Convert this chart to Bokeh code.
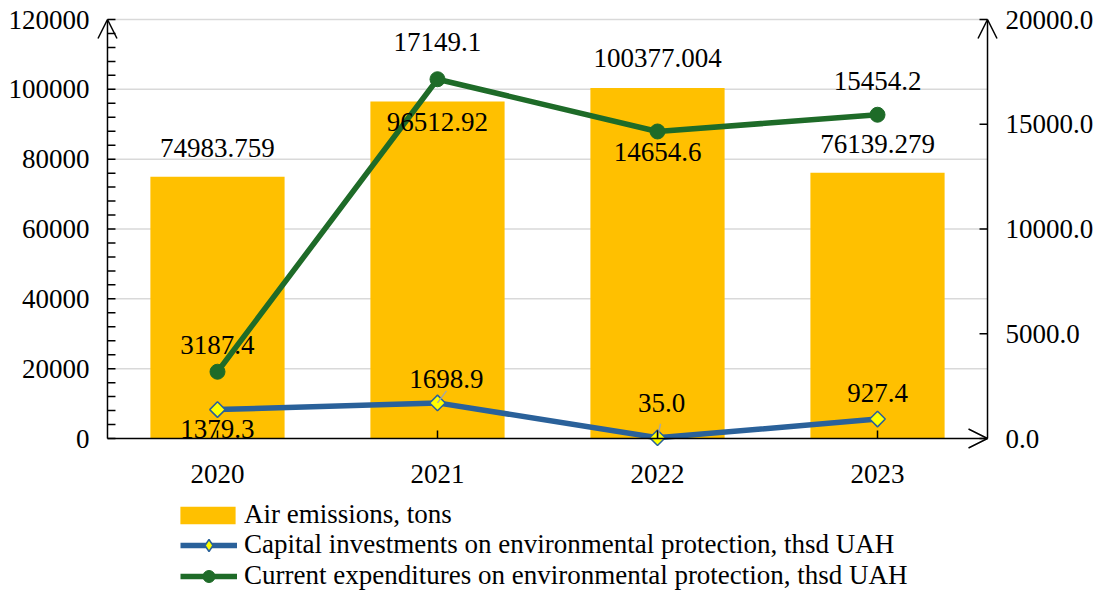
from bokeh.plotting import figure
from bokeh.models import (Range1d, LinearAxis, SingleIntervalTicker,
                          NumeralTickFormatter, Arrow, OpenHead, Legend, LegendItem)
from bokeh.core.properties import value
from bokeh.embed import file_html
from bokeh.resources import INLINE

# ---- data ----
years = ["2020", "2021", "2022", "2023"]
air_emissions = [74983.759, 96512.92, 100377.004, 76139.279]
capital_invest = [1379.3, 1698.9, 35.0, 927.4]
current_exp = [3187.4, 17149.1, 14654.6, 15454.2]
air_labels = ["74983.759", "96512.92", "100377.004", "76139.279"]
capital_labels = ["1379.3", "1698.9", "35.0", "927.4"]
current_labels = ["3187.4", "17149.1", "14654.6", "15454.2"]
series_names = ["Air emissions, tons",
                "Capital investments on environmental protection, thsd UAH",
                "Current expenditures on environmental protection, thsd UAH"]
left_max, left_step, left_minor = 120000, 20000, 4000
right_max, right_step = 20000, 5000

# ---- styles / layout ----
FONT = "Liberation Serif"
FS = "27px"
BAR = "#FFC000"
BLUE = "#2A619A"
GREEN = "#1E6B28"
GRID = "#D9D9D9"
DIAMOND_FILL = "#FFFF00"

AX_L, AX_T = 107, 19            # pixel position of the left axis line / top of axes
AX_W, AX_H = 881, 419           # pixel distance between the axis lines
PAD_L, PAD_R, PAD_T = 11, 11, 3
PAD_B = 592 - AX_T - AX_H        # frame reaches the bottom (room for legend)
TICK = 8
ncat = len(years)
px_x = AX_W / ncat
px_l = AX_H / left_max
px_r = AX_H / right_max

xc = [i + 0.5 for i in range(ncat)]   # category centres

air_dy = [-29, 20, -30, -29]
cap_dx = [0, 9, 4, 0]
cap_dy = [19, -24, -35, -26]
cur_dy = [-27, -37, 21, -34]

p = figure(width=1096, height=592,
           x_range=Range1d(-PAD_L / px_x, ncat + PAD_R / px_x),
           y_range=Range1d(-PAD_B / px_l, left_max + PAD_T / px_l),
           output_backend="svg", toolbar_location=None, x_axis_location=None,
           min_border_left=AX_L - PAD_L, min_border_right=1096 - AX_L - AX_W - PAD_R,
           min_border_top=AX_T - PAD_T, min_border_bottom=0,
           title=None)
p.outline_line_color = None
p.background_fill_color = "white"
p.border_fill_color = "white"
p.xgrid.visible = False
p.ygrid.visible = False

p.extra_y_ranges = {"r": Range1d(-PAD_B / px_r, right_max + PAD_T / px_r)}

# y axes: labels only (lines / ticks drawn below at the true axis positions)
la = p.yaxis[0]
la.ticker = SingleIntervalTicker(interval=left_step, num_minor_ticks=0)
la.formatter = NumeralTickFormatter(format="0")
la.bounds = (0, left_max)
ra = LinearAxis(y_range_name="r",
                ticker=SingleIntervalTicker(interval=right_step, num_minor_ticks=0),
                formatter=NumeralTickFormatter(format="0.0"), bounds=(0, right_max))
p.add_layout(ra, "right")

for ax in [la, ra]:
    ax.axis_line_color = None
    ax.major_tick_line_color = None
    ax.minor_tick_line_color = None
    ax.major_tick_in = 0
    ax.major_tick_out = 0
    ax.minor_tick_in = 0
    ax.minor_tick_out = 0
    ax.major_label_text_font = FONT
    ax.major_label_text_font_size = FS
    ax.major_label_text_color = "black"
la.major_label_standoff = 7
ra.major_label_standoff = 7

# gridlines
grid_y = list(range(left_step, left_max + 1, left_step))
p.segment(x0=[0] * len(grid_y), x1=[ncat] * len(grid_y), y0=grid_y, y1=grid_y,
          line_color=GRID, line_width=1.5)

# bars
bars = p.vbar(x=xc, top=air_emissions, width=0.61, fill_color=BAR, line_color=None)

# lines
bl = p.line(xc, capital_invest, y_range_name="r", line_width=5.5, line_color=BLUE)
# diamond renderer used as the legend key (hidden under the rotated squares)
bm_key = p.scatter(xc, capital_invest, y_range_name="r", marker="diamond", size=12,
                   fill_color=DIAMOND_FILL, line_color=BLUE, line_width=1.5)
bm = p.scatter(xc, capital_invest, y_range_name="r", marker="square", angle=0.785398,
               size=11, fill_color=DIAMOND_FILL, line_color=BLUE, line_width=1.5)
gl = p.line(xc, current_exp, y_range_name="r", line_width=5.5, line_color=GREEN)
gm = p.scatter(xc, current_exp, y_range_name="r", marker="circle", size=15,
               fill_color=GREEN, line_color=GREEN)

# leader lines for two labels
lead_idx = [1, 2]
lead_px = [(9, 12), (3, 14)]
p.segment(x0=[xc[i] for i in lead_idx],
          y0=[capital_invest[i] for i in lead_idx],
          x1=[xc[i] + d[0] / px_x for i, d in zip(lead_idx, lead_px)],
          y1=[capital_invest[i] + d[1] / px_r for i, d in zip(lead_idx, lead_px)],
          y_range_name="r", line_color="#A6A6A6", line_width=1.5)

# axis ticks
lt = list(range(0, left_max + 1, left_minor))
p.segment(x0=[0] * len(lt), x1=[TICK / px_x] * len(lt), y0=lt, y1=lt,
          line_color="black", line_width=1.5)
rt = list(range(0, right_max + 1, right_step))
p.segment(x0=[ncat] * len(rt), x1=[ncat - TICK / px_x] * len(rt), y0=rt, y1=rt,
          y_range_name="r", line_color="black", line_width=1.5)
p.segment(x0=xc, x1=xc, y0=[0] * ncat, y1=[TICK / px_l] * ncat,
          line_color="black", line_width=1.5)

# axis lines with arrow heads
head = dict(size=19, line_width=1.5, line_color="black")
p.add_layout(Arrow(end=OpenHead(**head), x_start=0, y_start=0, x_end=0, y_end=left_max,
                   line_color="black", line_width=1.5))
p.add_layout(Arrow(end=OpenHead(**head), x_start=ncat, y_start=0, x_end=ncat, y_end=left_max,
                   line_color="black", line_width=1.5))
p.add_layout(Arrow(end=OpenHead(**head), x_start=0, y_start=0, x_end=ncat, y_end=0,
                   line_color="black", line_width=1.5))

# category labels
txt = dict(text_font=value(FONT), text_font_size=FS, text_color="black",
           text_align="center", text_baseline="middle")
p.text(x=xc, y=[0] * ncat, text=years, y_offset=35, **txt)

# data labels
p.text(x=xc, y=air_emissions, text=air_labels, y_offset=air_dy, **txt)
p.text(x=xc, y=capital_invest, text=capital_labels, x_offset=cap_dx, y_offset=cap_dy,
       y_range_name="r", **txt)
p.text(x=xc, y=current_exp, text=current_labels, y_offset=cur_dy,
       y_range_name="r", **txt)

leg_style = dict(orientation="vertical", padding=0, margin=0, spacing=0,
                 border_line_color=None, background_fill_alpha=0,
                 label_text_font=FONT, label_text_font_size=FS, label_text_color="black")
legend1 = Legend(items=[LegendItem(label=series_names[0], renderers=[bars])],
                 location=(173 - AX_L + PAD_L, 62), glyph_width=69, glyph_height=22,
                 label_height=22, label_standoff=2, **leg_style)
legend2 = Legend(items=[LegendItem(label=series_names[1], renderers=[bl, bm_key]),
                        LegendItem(label=series_names[2], renderers=[gl, gm])],
                 location=(180 - AX_L + PAD_L, 1), glyph_width=57, glyph_height=30,
                 label_height=30, label_standoff=7, **leg_style)
p.add_layout(legend1)
p.add_layout(legend2)

open("out.html", "w").write(file_html(p, INLINE))
